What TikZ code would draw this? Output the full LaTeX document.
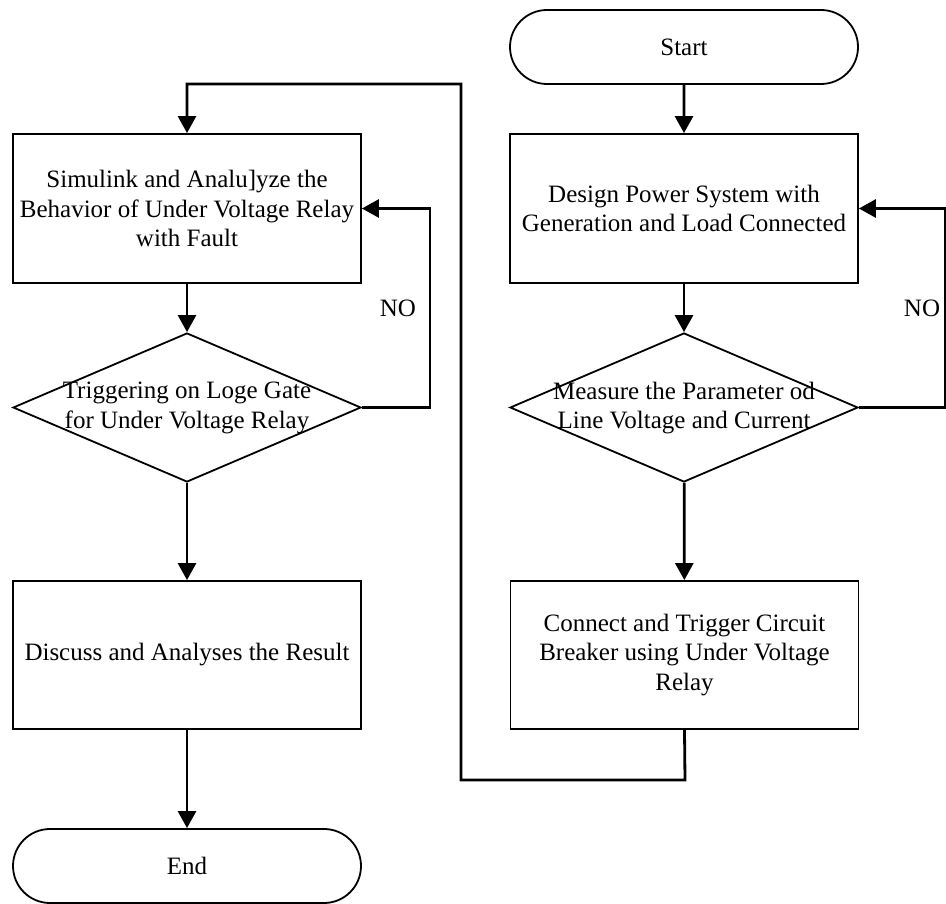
\documentclass[tikz,border=0pt]{standalone}
\usepackage{fontspec}
\setmainfont{Liberation Serif}
\usetikzlibrary{shapes.geometric,shapes.misc,arrows.meta}
\begin{document}
\begin{tikzpicture}[x=1pt,y=-1pt,
  every node/.style={font=\fontsize{25}{29.5}\selectfont},
  procbox/.style={draw,line width=1.8pt,minimum width=348pt,minimum height=149pt,inner sep=0pt,align=center},
  termbox/.style={draw,rounded rectangle,line width=1.8pt,minimum width=348pt,minimum height=74pt,inner sep=0pt},
  decbox/.style={draw,diamond,line width=1.8pt,minimum width=348pt,minimum height=149pt,inner sep=0pt},
  conn/.style={line width=2.8pt},
  arr/.style={conn,-{Triangle[length=17pt,width=18pt]}}]
\useasboundingbox (0,0) rectangle (946,904);
% right column
\node[termbox] (start) at (684,47) {Start};
\node[procbox] (design) at (684,208.5) {Design Power System with\\Generation and Load Connected};
\node[decbox] (measure) at (684,407.5) {};
\node[align=center] (measuretxt) at (684,408) {Measure the Parameter od\\Line Voltage and Current};
\node[procbox,minimum height=148pt] (connect) at (684.5,655) {Connect and Trigger Circuit\\Breaker using Under Voltage\\Relay};
% left column
\node[procbox] (simul) at (187,208.5) {Simulink and Analu]yze the\\Behavior of Under Voltage Relay\\with Fault};
\node[decbox] (trig) at (187,407.5) {};
\node[align=center] (trigtxt) at (187,408) {Triggering on Loge Gate\\for Under Voltage Relay};
\node[procbox,minimum height=148pt] (discuss) at (187,655) {Discuss and Analyses the Result};
\node[termbox] (end) at (187,866) {End};
% labels
\node (no1) at (398,308) {NO};
\node (no2) at (922,308) {NO};
% coordinates
\coordinate (c1) at (685,780);
\coordinate (c2) at (461,780);
\coordinate (c3) at (461,84);
\coordinate (c4) at (187,84);
\coordinate (r1) at (945,407.5);
\coordinate (r2) at (945,208.5);
\coordinate (l1) at (430,407.5);
\coordinate (l2) at (430,208.5);
% connectors
\draw[arr] (start) -- (design);
\draw[arr] (design) -- (measure);
\draw[arr] (measure) -- (connect);
\draw[arr] (connect.south) -- (c1) -- (c2) -- (c3) -- (c4) -- (simul.north);
\draw[arr] (measure.east) -- (r1) -- (r2) -- (design.east);
\draw[arr] (simul) -- (trig);
\draw[arr] (trig) -- (discuss);
\draw[arr] (discuss) -- (end);
\draw[arr] (trig.east) -- (l1) -- (l2) -- (simul.east);
\end{tikzpicture}
\end{document}
